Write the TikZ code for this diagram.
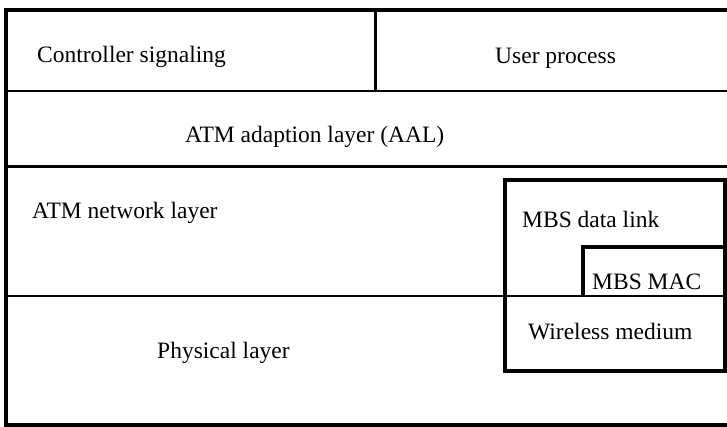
\documentclass[tikz,border=0pt]{standalone}
\usepackage{fontspec}
\setmainfont{Liberation Serif}
\begin{document}
\begin{tikzpicture}[x=1pt,y=-1pt,
  frame/.style={line width=3.2pt},
  rule/.style={line width=2.6pt},
  divider/.style={line width=2.2pt},
  mbsbox/.style={line width=4pt},
  lbl/.style={anchor=base west,inner sep=0pt,font=\fontsize{23.5}{28}\selectfont}]
\useasboundingbox (0,0) rectangle (727,427);

% corner points of the protocol stack
\coordinate (tl) at (6,10);
\coordinate (bl) at (6,425);
\coordinate (tr) at (727,10);
\coordinate (br) at (727,425);

% layer boundaries
\coordinate (row1l) at (6,91);     \coordinate (row1r) at (727,91);
\coordinate (row2l) at (6,166.5);  \coordinate (row2r) at (727,166.5);
\coordinate (row3l) at (6,296);    \coordinate (row3r) at (727,296);
\coordinate (divt) at (375.5,10);  \coordinate (divb) at (375.5,91);

% MBS blocks
\coordinate (mbsnw) at (504.5,180);
\coordinate (mbsse) at (725,370.5);
\coordinate (macnw) at (582.5,247.5);
\coordinate (macsw) at (582.5,296);
\coordinate (macne) at (725,247.5);

% outer frame
\draw[frame] (tr) -- (tl) -- (bl) -- (br);

% layer rules
\draw[rule] (row1l) -- (row1r);
\draw[rule] (row2l) -- (row2r);
\draw[rule] (row3l) -- (row3r);
\draw[divider] (divt) -- (divb);

% MBS data link box and MBS MAC corner
\draw[mbsbox] (mbsnw) rectangle (mbsse);
\draw[mbsbox] (macsw) -- (macnw) -- (macne);

% labels
\node[lbl] (ctrl) at (37,63) {Controller signaling};
\node[lbl] (user) at (495,64) {User process};
\node[lbl] (aal)  at (185,143) {ATM adaption layer (AAL)};
\node[lbl] (net)  at (32,219) {ATM network layer};
\node[lbl] (dlink) at (522,228) {MBS data link};
\node[lbl] (mac)  at (592,289) {MBS MAC};
\node[lbl] (wire) at (528,339) {Wireless medium};
\node[lbl] (phy)  at (157,358) {Physical layer};
\end{tikzpicture}
\end{document}
